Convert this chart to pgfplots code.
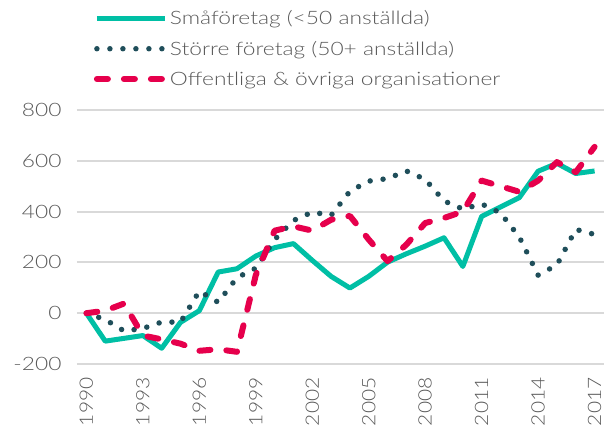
\documentclass[border=0pt]{standalone}
\usepackage{fontspec}
\setmainfont{Lato}[UprightFont={* Light}, FakeStretch=1.23]
\newfontfamily\xfont{Lato}[UprightFont={* Light}, FakeStretch=1.13]
\usepackage{pgfplots}
\pgfplotsset{compat=1.18}
\definecolor{teal1}{RGB}{0,191,165}
\definecolor{dteal}{RGB}{31,78,90}
\definecolor{red1}{RGB}{230,0,76}
\definecolor{gridg}{RGB}{217,217,217}
\definecolor{txt}{RGB}{89,89,89}
\begin{document}
\begin{tikzpicture}
\useasboundingbox (0pt,0pt) rectangle (614pt,-425pt);
\begin{axis}[
  at={(77pt,-364pt)}, anchor=south west,
  scale only axis, width=527pt, height=254pt,
  xmin=1989.5, xmax=2017.5, ymin=-200, ymax=800,
  xtick={1990,1993,1996,1999,2002,2005,2008,2011,2014,2017},
  xticklabels={1990,1993,1996,1999,2002,2005,2008,2011,2014,2017},
  ytick={-200,0,200,400,600,800},
  yticklabels={-200,0,200,400,600,800},
  ymajorgrids, grid style={gridg, line width=2pt},
  axis line style={draw=none},
  major tick length=0pt,
  yticklabel style={font=\fontsize{18.5}{22}\selectfont, text=txt},
  xticklabel style={font=\xfont\fontsize{18.5}{22}\selectfont, text=txt, rotate=90, anchor=east},
  xticklabel shift=10pt,
  yticklabel shift=12pt,
  legend cell align=left,
  legend style={at={(0.026,1.409)}, anchor=north west, draw=none, fill=none,
    font=\fontsize{18.5}{22}\selectfont, text=txt, row sep=11pt},
  legend image code/.code={\draw[#1] (0pt,0pt) -- (68pt,0pt);},
]
\addplot[teal1, line width=5pt, line join=round] coordinates {
(1990,0) (1991,-110) (1992,-99) (1993,-88) (1994,-138) (1995,-36) (1996,10)
(1997,162) (1998,175) (1999,225) (2000,258) (2001,274) (2002,208) (2003,145)
(2004,99) (2005,145) (2006,201) (2007,234) (2008,264) (2009,297) (2010,184)
(2011,381) (2012,418) (2013,455) (2014,559) (2015,590) (2016,550) (2017,560)};
\addlegendentry{Småföretag (<50 anställda)}
\addplot[dteal, line width=5.5pt, line cap=round, dash pattern=on 0pt off 13pt] coordinates {
(1990,0) (1991,-25) (1992,-70) (1993,-60) (1994,-35) (1995,-35) (1996,87)
(1997,43) (1998,140) (1999,177) (2000,290) (2001,365) (2002,398) (2003,385)
(2004,480) (2005,520) (2006,530) (2007,560) (2008,527) (2009,442) (2010,410)
(2011,430) (2012,395) (2013,300) (2014,150) (2015,190) (2016,330) (2017,310)};
\addlegendentry{Större företag (50+ anställda)}
\addplot[red1, line width=6pt, line cap=round, line join=round, dash pattern=on 11pt off 16pt] coordinates {
(1990,0) (1991,10) (1992,38) (1993,-88) (1994,-103) (1995,-120) (1996,-148)
(1997,-142) (1998,-152) (1999,150) (2000,325) (2001,342) (2002,325) (2003,368)
(2004,383) (2005,290) (2006,205) (2007,270) (2008,355) (2009,375) (2010,400)
(2011,522) (2012,500) (2013,478) (2014,522) (2015,595) (2016,555) (2017,655)};
\addlegendentry{Offentliga \& övriga organisationer}
\end{axis}
\end{tikzpicture}
\end{document}
